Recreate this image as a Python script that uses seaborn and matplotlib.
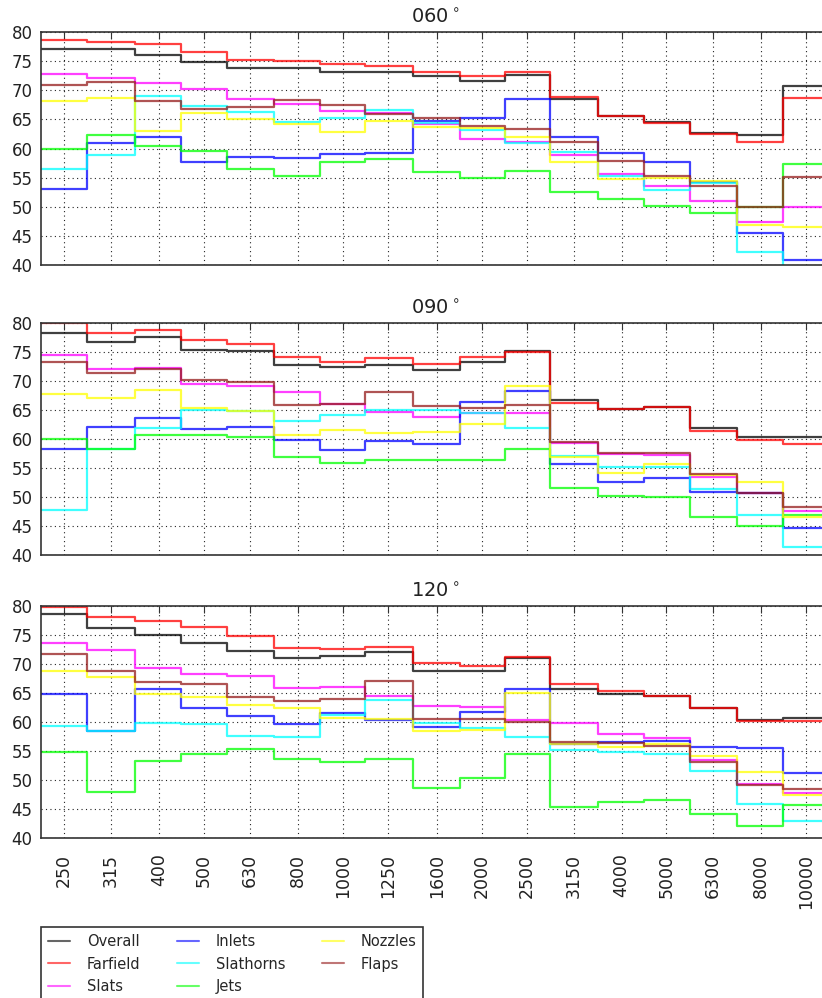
import numpy as np
import pandas as pd
import matplotlib
matplotlib.use("Agg")
import matplotlib.pyplot as plt
from matplotlib.ticker import NullLocator
import seaborn as sns

# ---------------- data ----------------
freqs = [250, 315, 400, 500, 630, 800, 1000, 1250, 1600, 2000, 2500,
         3150, 4000, 5000, 6300, 8000, 10000]
freq_labels = [str(f) for f in freqs]
series_names = ["Overall", "Farfield", "Slats", "Inlets", "Slathorns",
                "Jets", "Nozzles", "Flaps"]
series_colors = ["black", "red", "magenta", "blue", "cyan", "lime",
                 "yellow", "#951b1b"]
angles = ["060", "090", "120"]

# 060 deg
overall_060 = [77.0, 77.1, 76.0, 74.9, 73.9, 73.8, 73.1, 73.1, 72.45, 71.65, 72.55, 68.55, 65.6, 64.6, 62.7, 62.3, 70.7]
farfield_060 = [78.6, 78.3, 77.9, 76.6, 75.25, 74.95, 74.45, 74.1, 73.2, 72.5, 73.2, 68.8, 65.5, 64.45, 62.45, 61.2, 68.7]
slats_060 = [72.8, 72.1, 71.25, 70.3, 68.5, 67.7, 66.4, 66.15, 64.2, 61.6, 61.2, 58.8, 55.6, 53.6, 51.05, 47.3, 49.9]
inlets_060 = [53.05, 60.95, 62.0, 57.6, 58.6, 58.3, 59.1, 59.15, 64.8, 65.2, 68.5, 62.0, 59.3, 57.6, 54.3, 45.55, 40.8]
slathorns_060 = [56.55, 58.95, 69.0, 67.35, 66.2, 64.55, 65.2, 66.6, 64.4, 63.2, 60.9, 59.45, 55.2, 52.8, 54.0, 42.3, 39.0]
jets_060 = [59.85, 62.25, 60.4, 59.6, 56.55, 55.3, 57.75, 58.15, 56.0, 54.9, 56.2, 52.55, 51.3, 50.1, 48.9, 49.9, 57.35]
nozzles_060 = [68.1, 68.7, 63.0, 66.05, 65.1, 64.15, 62.8, 64.65, 63.7, 63.6, 61.9, 57.7, 54.7, 54.9, 54.4, 46.9, 46.5]
flaps_060 = [70.9, 71.5, 68.15, 66.8, 67.05, 68.3, 67.5, 66.0, 65.2, 63.9, 63.35, 61.2, 57.8, 55.3, 53.6, 50.0, 55.05]

# 090 deg
overall_090 = [78.3, 76.7, 77.5, 75.35, 75.2, 72.75, 72.3, 72.65, 71.85, 73.3, 75.1, 66.65, 65.1, 65.4, 61.9, 60.35, 60.35]
farfield_090 = [79.9, 78.3, 78.7, 77.1, 76.4, 74.15, 73.2, 73.85, 72.9, 74.0, 75.0, 66.1, 65.05, 65.4, 61.4, 59.75, 59.0]
slats_090 = [74.5, 72.1, 72.2, 69.4, 69.15, 68.05, 66.0, 64.55, 63.7, 64.4, 64.5, 59.3, 57.4, 57.2, 53.45, 50.7, 47.5]
inlets_090 = [58.3, 61.95, 63.5, 61.6, 61.95, 59.75, 58.1, 59.55, 59.1, 66.4, 68.3, 55.65, 52.5, 53.3, 50.8, 50.65, 44.6]
slathorns_090 = [47.7, 58.3, 61.8, 65.0, 64.7, 63.05, 64.0, 64.95, 64.95, 64.4, 61.9, 57.0, 55.05, 55.2, 51.25, 46.85, 41.4]
jets_090 = [59.95, 58.3, 60.6, 60.6, 60.35, 56.8, 55.85, 56.4, 56.4, 56.4, 58.3, 51.45, 50.1, 50.0, 46.45, 45.0, 46.85]
nozzles_090 = [67.65, 66.95, 68.4, 65.3, 64.7, 60.6, 61.55, 61.0, 61.2, 62.5, 69.05, 56.8, 54.05, 55.65, 53.75, 52.5, 46.45]
flaps_090 = [73.2, 71.4, 71.95, 70.05, 69.8, 65.85, 65.95, 68.05, 65.6, 65.35, 65.8, 59.5, 57.55, 57.5, 53.95, 50.7, 48.3]

# 120 deg
overall_120 = [78.55, 76.1, 75.0, 73.6, 72.25, 71.0, 71.35, 72.1, 68.8, 68.75, 70.95, 65.6, 64.9, 64.5, 62.45, 60.4, 60.75]
farfield_120 = [79.8, 78.0, 77.4, 76.4, 74.8, 72.8, 72.6, 72.95, 70.1, 69.6, 71.1, 66.5, 65.4, 64.5, 62.35, 60.15, 60.1]
slats_120 = [73.6, 72.45, 69.35, 68.25, 67.9, 65.85, 66.05, 64.5, 62.75, 62.65, 60.35, 59.8, 57.95, 57.3, 53.55, 49.3, 47.75]
inlets_120 = [64.9, 58.5, 65.7, 62.4, 61.05, 59.65, 61.6, 60.35, 59.2, 61.8, 65.6, 56.2, 56.6, 56.7, 55.75, 55.6, 51.2]
slathorns_120 = [59.35, 58.5, 59.75, 59.6, 57.6, 57.5, 61.2, 63.8, 59.75, 58.9, 57.5, 55.1, 54.8, 54.5, 51.5, 45.85, 43.0]
jets_120 = [54.8, 48.0, 53.35, 54.5, 55.35, 53.6, 53.2, 53.7, 48.6, 50.3, 54.45, 45.45, 46.2, 46.6, 44.2, 42.05, 45.65]
nozzles_120 = [68.8, 67.7, 64.75, 64.35, 62.85, 62.35, 60.7, 60.45, 58.45, 58.6, 65.05, 56.15, 55.7, 56.2, 54.1, 51.45, 47.4]
flaps_120 = [71.75, 68.75, 66.8, 66.45, 64.35, 63.65, 63.9, 67.05, 60.6, 60.6, 60.05, 56.6, 56.45, 55.9, 53.2, 49.2, 48.4]

panel_data = {
    "060": [overall_060, farfield_060, slats_060, inlets_060, slathorns_060, jets_060, nozzles_060, flaps_060],
    "090": [overall_090, farfield_090, slats_090, inlets_090, slathorns_090, jets_090, nozzles_090, flaps_090],
    "120": [overall_120, farfield_120, slats_120, inlets_120, slathorns_120, jets_120, nozzles_120, flaps_120],
}

# ---------------- style ----------------
sns.set_style("white")
plt.rcParams["font.family"] = ["DejaVu Sans"]
plt.rcParams["axes.edgecolor"] = "#333333"

W, H = 822, 998
fig = plt.figure(figsize=(W / 100, H / 100), dpi=100)

# band edges (steps span the whole band on the log axis)
f = np.array(freqs, dtype=float)
edges = np.concatenate([[f[0] / 2 ** (1 / 6)], np.sqrt(f[:-1] * f[1:]), [f[-1] * 2 ** (1 / 6)]])

# axes pixel geometry: (left, top, right, bottom)
boxes = [(41, 32, 829, 265), (41, 322.7, 829, 554.7), (41, 605.7, 829, 838.3)]
palette = dict(zip(series_names, series_colors))

axes = []
for k, ang in enumerate(angles):
    l, t, r, b = boxes[k]
    ax = fig.add_axes([l / W, 1 - b / H, (r - l) / W, (b - t) / H])
    axes.append(ax)
    ax.set_xscale("log")
    rows = []
    for name, vals in zip(series_names, panel_data[ang]):
        yv = list(vals) + [vals[-1]]
        for xe, yy in zip(edges, yv):
            rows.append({"freq": xe, "level": yy, "series": name})
    df = pd.DataFrame(rows)
    sns.lineplot(data=df, x="freq", y="level", hue="series",
                 hue_order=series_names, palette=palette,
                 drawstyle="steps-post", estimator=None, sort=False,
                 linewidth=1.6, alpha=0.75, ax=ax, legend=(k == 2))
    ax.set_xlim(edges[0], edges[-1])
    ax.set_ylim(40, 80)
    ax.set_xticks(freqs)
    ax.xaxis.set_minor_locator(NullLocator())
    if k == 2:
        ax.set_xticklabels(freq_labels, rotation=90, fontsize=12.5)
    else:
        ax.set_xticklabels([])
    ax.set_yticks(range(40, 81, 5))
    ax.set_yticklabels([str(v) for v in range(40, 81, 5)], fontsize=12)
    ax.set_xlabel("")
    ax.set_ylabel("")
    ax.grid(True, which="major", color="#222222", linestyle=(0, (1, 3)),
            linewidth=0.8)
    ax.tick_params(axis="both", which="major", direction="in", length=5,
                   width=0.8, top=True, right=True, colors="#333333",
                   labelcolor="#222222")
    ax.tick_params(axis="x", pad=11)
    ax.tick_params(axis="y", pad=6)
    for s in ax.spines.values():
        s.set_linewidth(1.2)
        s.set_color("#333333")
    ax.set_title(ang + r"$^\circ$", fontsize=14, pad=6, color="#222222")

handles, labels = axes[2].get_legend_handles_labels()
axes[2].get_legend().remove()
for h in handles:
    h.set_alpha(0.6)
    h.set_linewidth(1.5)
leg = fig.legend(handles, labels, loc="upper left",
                 bbox_to_anchor=(41 / W, 1 - 927 / H), ncol=3, fontsize=10.5,
                 frameon=True, fancybox=False, edgecolor="#333333",
                 framealpha=1, borderaxespad=0, handlelength=1.5,
                 handletextpad=1.15, columnspacing=2.5, labelspacing=0.5,
                 borderpad=0.5)
leg.get_frame().set_linewidth(1.2)

fig.savefig("out.png", dpi=100)
